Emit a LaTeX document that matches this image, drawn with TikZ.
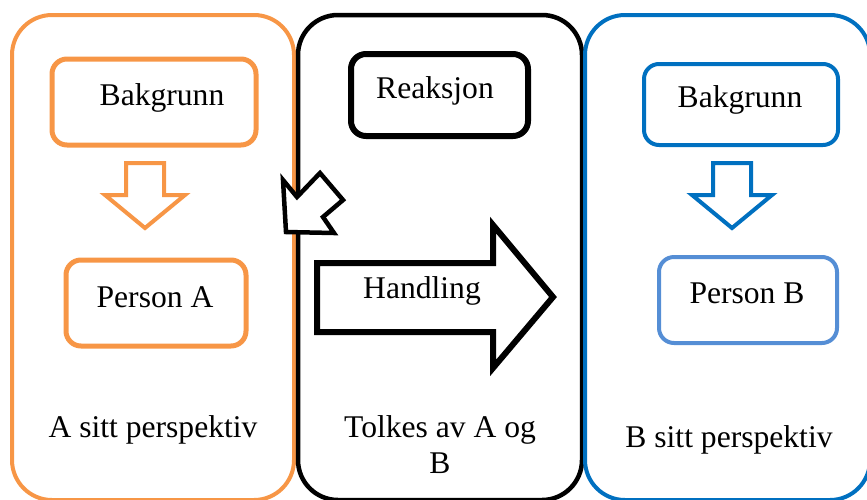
\documentclass[tikz,border=0pt]{standalone}
\usepackage{fontspec}
\setmainfont{Liberation Serif}
\usepackage{tikz}

\definecolor{laranja}{HTML}{F79646}
\definecolor{azul}{HTML}{0070C0}
\definecolor{azulclaro}{HTML}{558ED5}

\begin{document}
\begin{tikzpicture}[x=1pt,y=-1pt,
	every node/.style={font=\fontsize{31.6}{36}\selectfont, inner sep=0pt},
	coluna/.style={line width=4pt, rounded corners=40pt},
	caixa/.style={rounded corners=15pt, line width=5pt},
	seta/.style={line width=4pt, fill=white, line join=miter}]
	\clip (0,0) rectangle (867,499);
	
	% Colunas grandes
	\draw[coluna, draw=laranja] (12,15) rectangle (294,500);
	\draw[coluna, draw=black, line width=4.5pt] (298,15) rectangle (582,500);
	\draw[coluna, draw=azul] (585,15) rectangle (870,500);
	
	% Coluna da esquerda (A)
	\node[caixa, draw=laranja, minimum width=204, minimum height=86] (bakA) at (154,102) {};
	\node[anchor=base] (tbakA) at (162,105) {Bakgrunn};
	\draw[seta, draw=laranja] (126,163) -- (164,163) -- (164,195) -- (185,195) -- (145,228) -- (105,195) -- (126,195) -- cycle;
	\node[caixa, draw=laranja, minimum width=180, minimum height=86] (persA) at (156,303) {};
	\node[anchor=base] (tpersA) at (155,307) {Person A};
	\node[anchor=base] (perspA) at (153,437) {A sitt perspektiv};
	
	% Coluna do meio
	\node[caixa, draw=black, line width=6pt, minimum width=177, minimum height=82] (reak) at (439.5,95) {};
	\node[anchor=base] (treak) at (435,98) {Reaksjon};
	\draw[seta, draw=black, line width=4.5pt] (283,180) -- (297,197) -- (320,173) -- (343,200) -- (323,217) -- (334,233) -- (286,232) -- cycle;
	\draw[seta, draw=black, line width=6pt] (317,263) -- (493,263) -- (493,225) -- (553,297) -- (493,368) -- (493,332) -- (317,332) -- cycle;
	\node[anchor=base] (hand) at (422,298) {Handling};
	\node[anchor=base, align=center] (tolk) at (440,473) {Tolkes av A og\\B};
	
	% Coluna da direita (B)
	\node[caixa, draw=azul, line width=4pt, minimum width=194, minimum height=81] (bakB) at (741,104.5) {};
	\node[anchor=base] (tbakB) at (740,107) {Bakgrunn};
	\draw[seta, draw=azul] (713,163) -- (751,163) -- (751,195) -- (772,195) -- (732,228) -- (692,195) -- (713,195) -- cycle;
	\node[caixa, draw=azulclaro, line width=4pt, minimum width=178, minimum height=86] (persB) at (748,300) {};
	\node[anchor=base] (tpersB) at (747,303) {Person B};
	\node[anchor=base] (perspB) at (729,447) {B sitt perspektiv};
\end{tikzpicture}
\end{document}
